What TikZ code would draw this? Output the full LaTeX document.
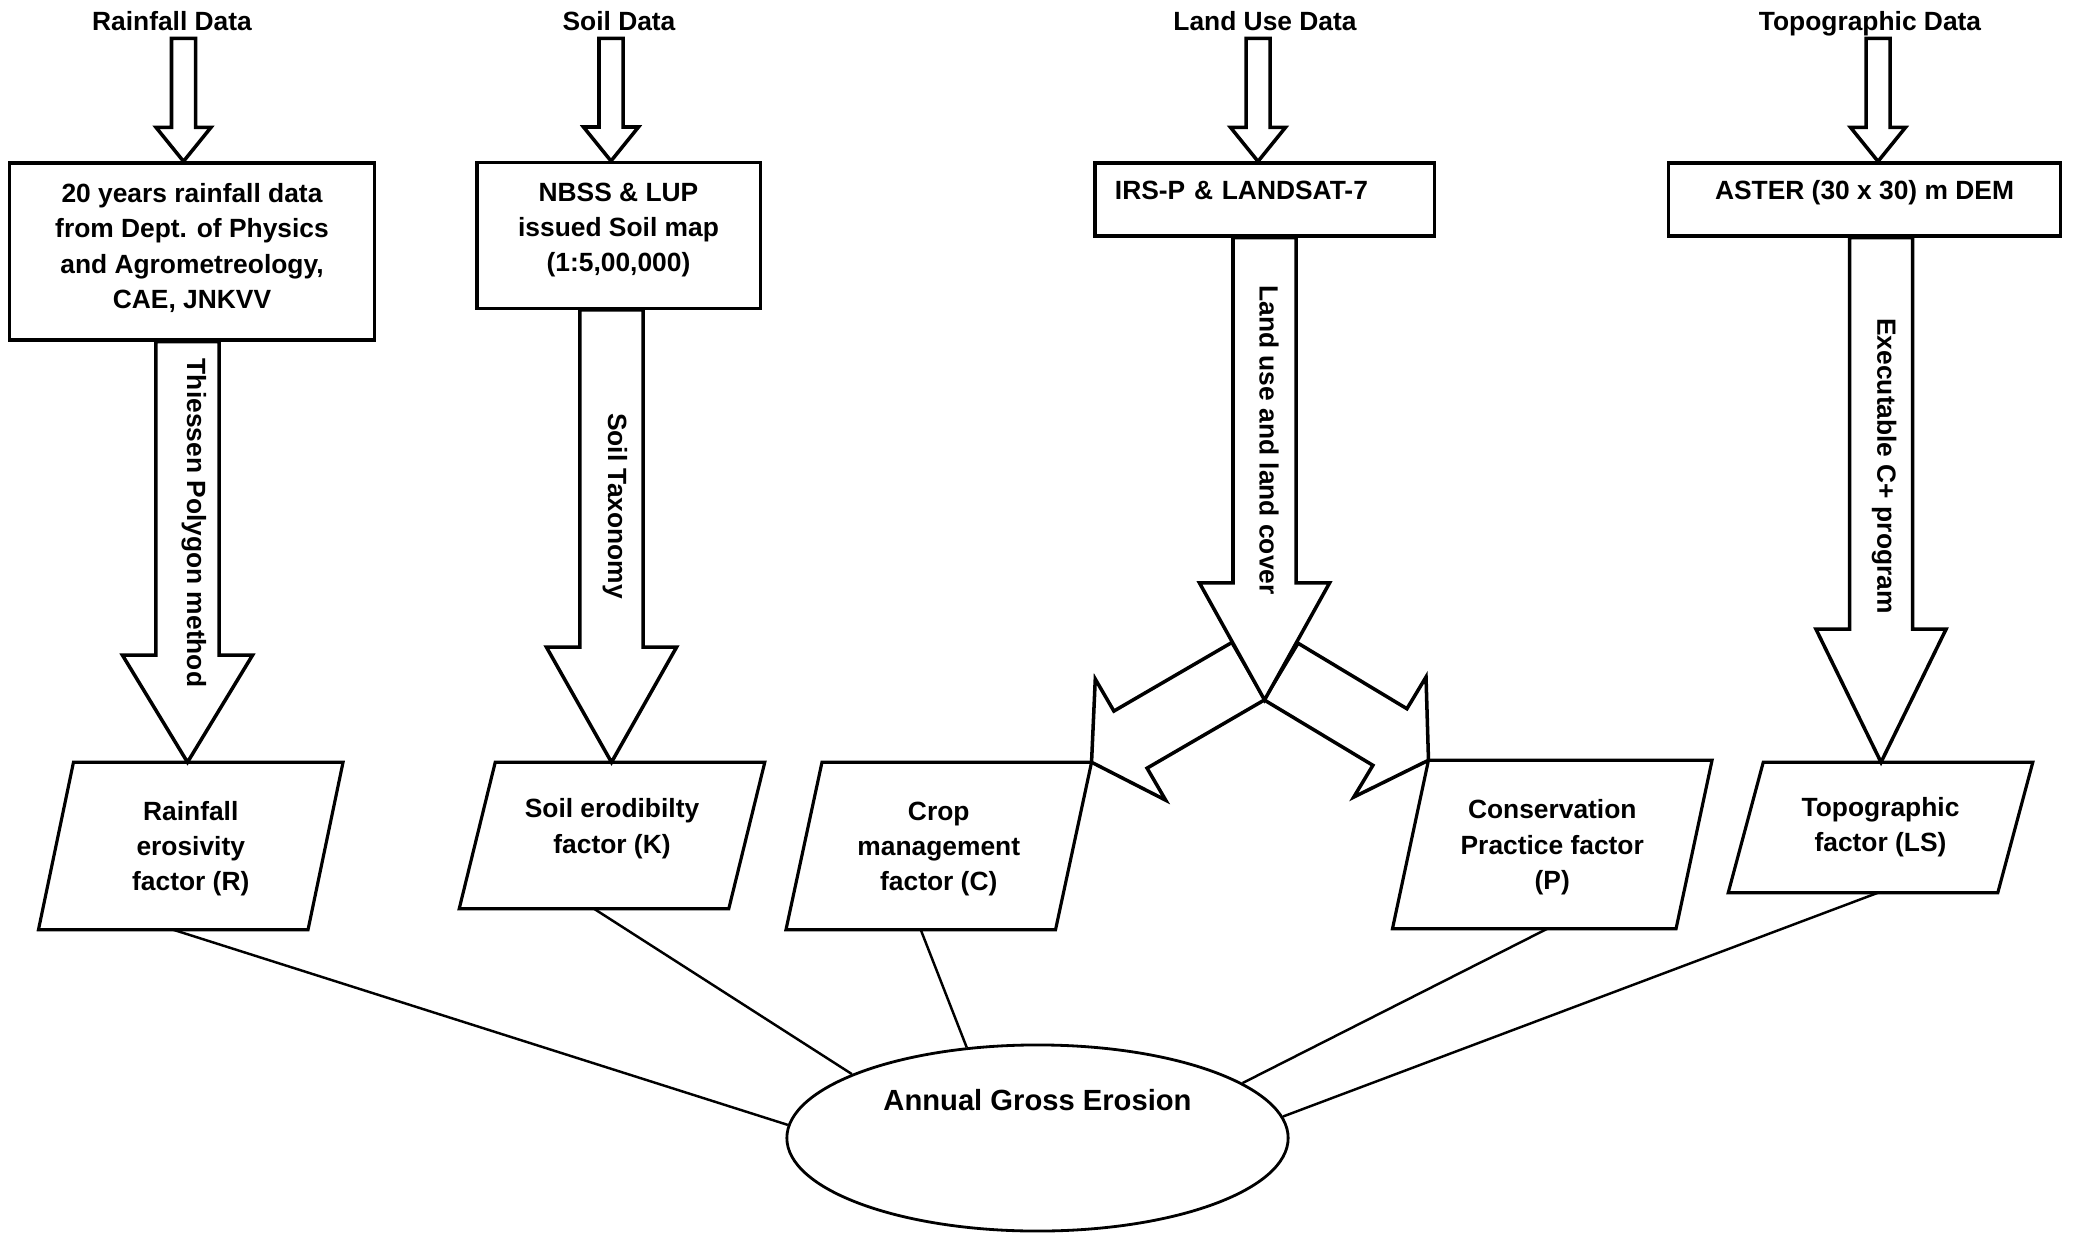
\documentclass[tikz,border=0pt]{standalone}
\usepackage{fontspec}
\setmainfont{Liberation Sans}
\usetikzlibrary{shapes.geometric, calc}
\newcommand\flowfont{\fontsize{7.5}{10}\selectfont\bfseries}
\tikzset{
  toplab/.style={font=\flowfont, inner sep=2pt, text height=5.5pt, text depth=0pt},
  srcbox/.style={draw, line width=0.9pt, align=center, font=\flowfont, inner sep=0.2cm},
  factor/.style={align=center, font=\flowfont, inner sep=0pt},
  para/.style={draw, line width=0.9pt, line join=miter},
  goal/.style={draw, ellipse, line width=0.8pt, inner sep=0pt, minimum width=5.01cm, minimum height=1.86cm},
  link/.style={line width=0.7pt},
  arrlab/.style={font=\flowfont, rotate=-90, inner sep=0pt},
  arrshaft/.store in=\arrshaft,
  arrhead/.store in=\arrhead,
  arrlen/.store in=\arrlen,
  blockarrow/.style={draw, fill=white, line width=1pt, line join=miter,
    to path={
      ($(\tikztostart)!\arrshaft!90:(\tikztotarget)$)
      -- ($(\tikztotarget)!\arrlen!(\tikztostart)!\arrshaft!-90:(\tikztostart)$)
      -- ($(\tikztotarget)!\arrlen!(\tikztostart)!\arrhead!-90:(\tikztostart)$)
      -- (\tikztotarget)
      -- ($(\tikztotarget)!\arrlen!(\tikztostart)!\arrhead!90:(\tikztostart)$)
      -- ($(\tikztotarget)!\arrlen!(\tikztostart)!\arrshaft!90:(\tikztostart)$)
      -- ($(\tikztostart)!\arrshaft!-90:(\tikztotarget)$)
      -- cycle}},
  bigarrow/.style={blockarrow, arrshaft=0.315cm, arrhead=0.65cm, arrlen=#1},
  thinarrow/.style={blockarrow, arrshaft=0.12cm, arrhead=0.275cm, arrlen=0.34cm},
  splitarrow/.style={blockarrow, arrshaft=0.33cm, arrhead=0.7cm, arrlen=0.45cm},
}

\begin{document}
\begin{tikzpicture}[x=0.01cm, y=-0.01cm]
  \useasboundingbox (0,0) rectangle (2073,1234);

  % data sources
  \node[toplab] (tR) at (172,21) {Rainfall Data};
  \node[toplab] (tK) at (619,21) {Soil Data};
  \node[toplab] (tL) at (1265,21) {Land Use Data};
  \node[toplab] (tLS) at (1870,21) {Topographic Data};

  \node[srcbox, minimum width=3.64cm, minimum height=1.77cm, text depth=0.11cm] (b1) at (192,251.5)
    {20 years rainfall data\\from Dept. of Physics\\and Agrometreology,\\CAE, JNKVV};
  \node[srcbox, minimum width=2.83cm, minimum height=1.45cm, text depth=0.17cm] (b2) at (618.5,235.5)
    {NBSS \& LUP\\issued Soil map\\(1:5,00,000)};
  \node[srcbox, minimum width=3.39cm, minimum height=0.73cm, text width=2.99cm, align=left,
    text height=0.15cm, text depth=0.15cm] (b3) at (1264.5,199.5) {IRS-P \& LANDSAT-7};
  \node[srcbox, minimum width=3.91cm, minimum height=0.73cm,
    text height=0.15cm, text depth=0.15cm] (b4) at (1864.5,199.5) {ASTER (30 x 30) m DEM};

  % factors
  \node[factor, minimum width=2.68cm, minimum height=1.66cm, text depth=-0.03cm] (fR) at (190.75,846) {Rainfall\\erosivity\\factor (R)};
  \node[factor, minimum width=2.68cm, minimum height=1.45cm, text depth=0.19cm] (fK) at (612,835.5) {Soil erodibilty\\factor (K)};
  \node[factor, minimum width=2.68cm, minimum height=1.66cm, text depth=-0.03cm] (fC) at (938.75,846) {Crop\\management\\factor (C)};
  \node[factor, minimum width=2.82cm, minimum height=1.67cm, text depth=-0.03cm] (fP) at (1552.25,844.5) {Conservation\\Practice factor\\(P)};
  \node[factor, minimum width=2.68cm, minimum height=1.29cm] (fLS) at (1880.5,827.5) {Topographic\\factor (LS)};

  \node[goal] (age) at (1037.5,1138) {};
  \node[font=\fontsize{8.3}{10}\selectfont\bfseries, inner sep=0pt] (ageT) at ([yshift=0.38cm]age.center) {Annual Gross Erosion};

  \foreach \n/\s/\o/\a in {fR/0.175/0/177, fK/0.18/0/161, fC/0.18/0/128, fP/0.18/0.13/15, fLS/0.175/0.15/5} {
    \draw[para] ([xshift=\s*1cm]\n.north west) -- ([xshift=\s*1cm]\n.north east)
      -- ([xshift=-\s*1cm]\n.south east) -- ([xshift=-\s*1cm]\n.south west) -- cycle;
    \draw[link] ([xshift={(\o-\s)*1cm}]\n.south) -- (age.\a);
  }

  % arrows
  \foreach \t/\b/\dx in {tR/b1/0.115, tK/b2/-0.08, tL/b3/-0.07, tLS/b4/0.08}
    \draw[thinarrow] ([xshift=\dx*1cm]\t.south) to ([xshift=\dx*1cm]\t.south |- \b.north);

  \coordinate (split) at (1264.5,700);
  \coordinate (sL) at ($(split)+(-16,-29)$);
  \coordinate (sR) at ($(split)+(16.5,-28.5)$);
  \draw[splitarrow] (sL) to ([xshift=0.18cm]fC.north east);
  \draw[splitarrow] (sR) to ([xshift=0.18cm]fP.north west);

  \draw[bigarrow=1.07cm] ([xshift=-0.045cm]b1.south) to ([xshift=-0.045cm]b1.south |- fR.north);
  \draw[bigarrow=1.15cm] ([xshift=-0.07cm]b2.south) to ([xshift=-0.07cm]b2.south |- fK.north);
  \draw[bigarrow=1.17cm] (b3.south) to (split);
  \draw[bigarrow=1.33cm] ([xshift=0.165cm]b4.south) to ([xshift=0.165cm]b4.south |- fLS.north);

  \node[arrlab] (lR) at (194,523) {Thiessen Polygon method};
  \node[arrlab] (lK) at (615,506) {Soil Taxonomy};
  \node[arrlab] (lL) at (1269,440) {Land use and land cover};
  \node[arrlab] (lLS) at (1884,466) {Executable C+ program};
\end{tikzpicture}
\end{document}
